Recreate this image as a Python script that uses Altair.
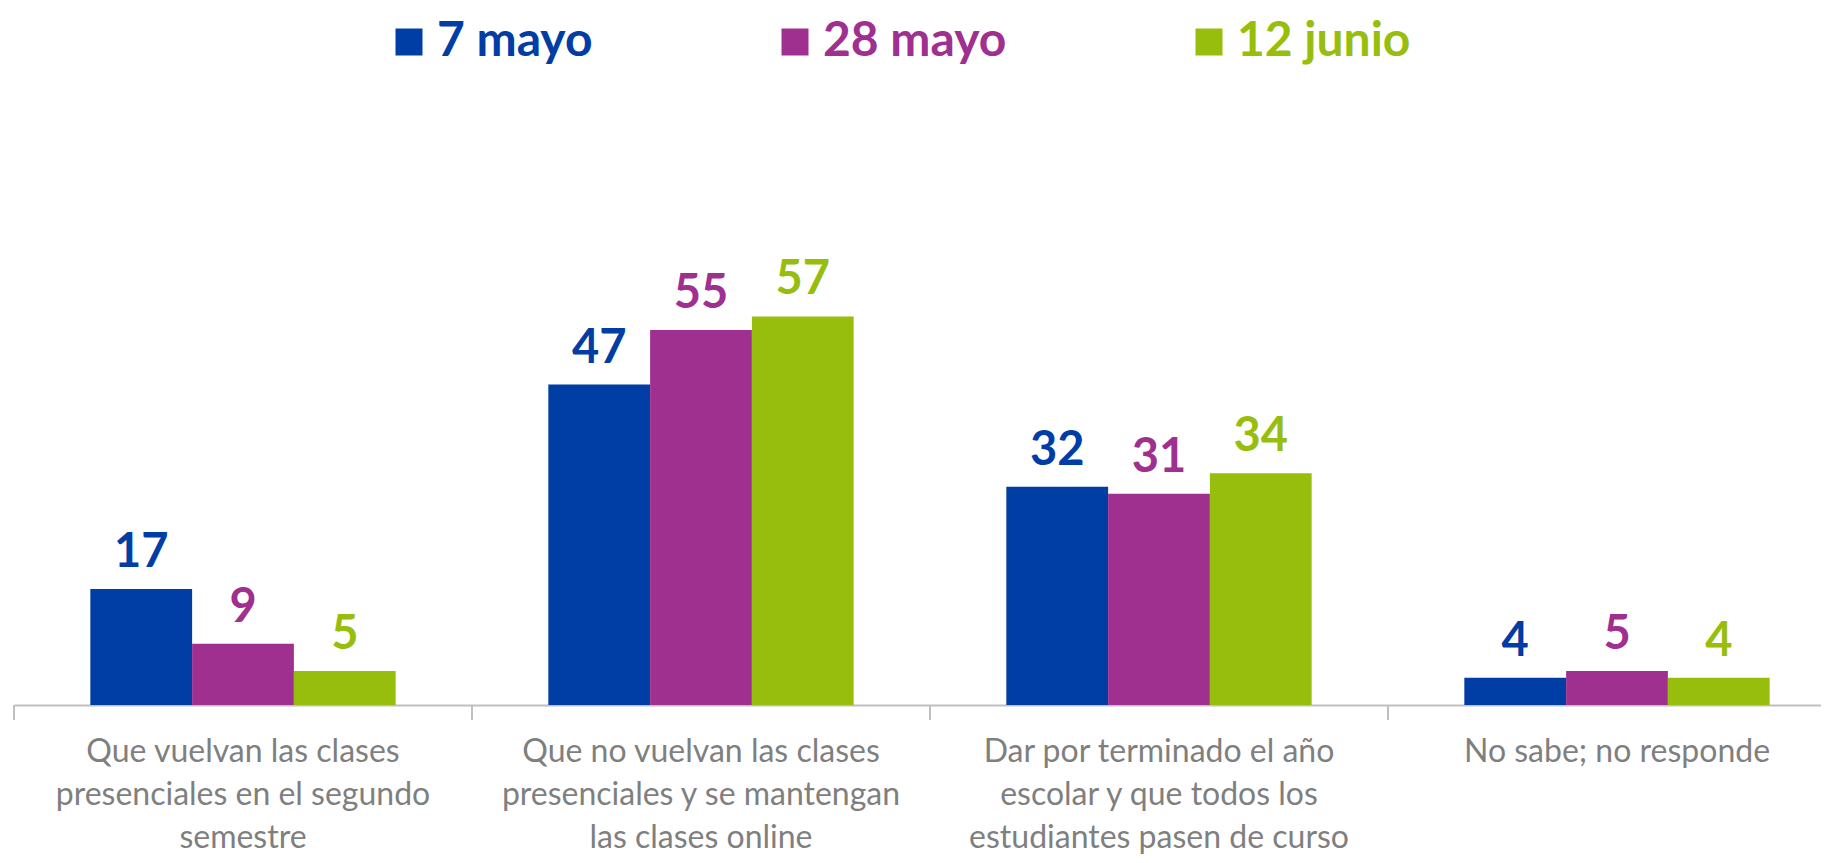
import altair as alt
import pandas as pd

categories = [
    "Que vuelvan las clases|presenciales en el segundo|semestre",
    "Que no vuelvan las clases|presenciales y se mantengan|las clases online",
    "Dar por terminado el año|escolar y que todos los|estudiantes pasen de curso",
    "No sabe; no responde",
]
series = ["7 mayo", "28 mayo", "12 junio"]
v_7mayo = [17, 47, 32, 4]
v_28mayo = [9, 55, 31, 5]
v_12junio = [5, 57, 34, 4]
colors = ["#003DA5", "#A0308F", "#97BE0D"]

rows = []
for s, vals in zip(series, [v_7mayo, v_28mayo, v_12junio]):
    for c, v in zip(categories, vals):
        rows.append({"cat": c, "serie": s, "valor": v})
df = pd.DataFrame(rows)
df_cat = pd.DataFrame({"cat": categories})

PAD_TOP = 20
PLOT_H = 677
xscale = alt.Scale(paddingInner=0, paddingOuter=0, range=[0, 1832])
x_enc = alt.X(
    "cat:N", sort=categories, scale=xscale,
    axis=alt.Axis(
        title=None, labelAngle=0, ticks=False, tickSize=0,
        domain=True, domainColor="#BFBFBF", domainWidth=2,
        labelExpr="split(datum.label, '|')",
        labelFont="Lato", labelFontSize=32,
        labelColor="#7F7F7F", labelLineHeight=43, labelPadding=31,
        labelLimit=0, labelBaseline="top", labelAlign="center",
    ),
)
xoff = alt.XOffset("serie:N", sort=series,
                   scale=alt.Scale(paddingOuter=0.75, paddingInner=0))
yscale = alt.Scale(domain=[0, 99.3], nice=False, zero=True)
y_enc = alt.Y("valor:Q", scale=yscale, axis=None)
color_scale = alt.Scale(domain=series, range=colors)

bars = alt.Chart(df).mark_bar().encode(
    x=x_enc, xOffset=xoff, y=y_enc,
    color=alt.Color(
        "serie:N", sort=series, scale=color_scale,
        legend=alt.Legend(
            orient="none", legendX=371, legendY=-10, direction="horizontal",
            title=None, symbolType="square", symbolSize=729,
            symbolStrokeWidth=0, symbolOpacity=1,
            labelFont="Lato", labelFontWeight="bold", labelFontSize=48,
            labelColor=alt.ExprRef("scale('color', datum.value)"),
            labelOffset=4, columnPadding=178, labelLimit=0,
        ),
    ),
)

labels = alt.Chart(df).mark_text(
    font="Lato", fontWeight="bold", fontSize=47, baseline="alphabetic", dy=-22
).encode(
    x=alt.X("cat:N", sort=categories), xOffset=xoff, y=y_enc,
    text="valor:Q",
    color=alt.Color("serie:N", sort=series, scale=color_scale, legend=None),
)

ticks = alt.Chart(df_cat).mark_rule(color="#BFBFBF", strokeWidth=2).encode(
    x=alt.X("cat:N", sort=categories, bandPosition=0),
    y=alt.value(PLOT_H), y2=alt.value(PLOT_H + 15),
)

chart = alt.layer(bars, labels, ticks).properties(
    width=1807, height=PLOT_H,
    padding={"left": 6, "top": PAD_TOP, "right": 0, "bottom": 150},
    autosize=alt.AutoSizeParams(type="none"),
    background="white",
).configure_view(stroke=None)

chart.save("out.html", embed_options={"renderer": "svg", "actions": False})
